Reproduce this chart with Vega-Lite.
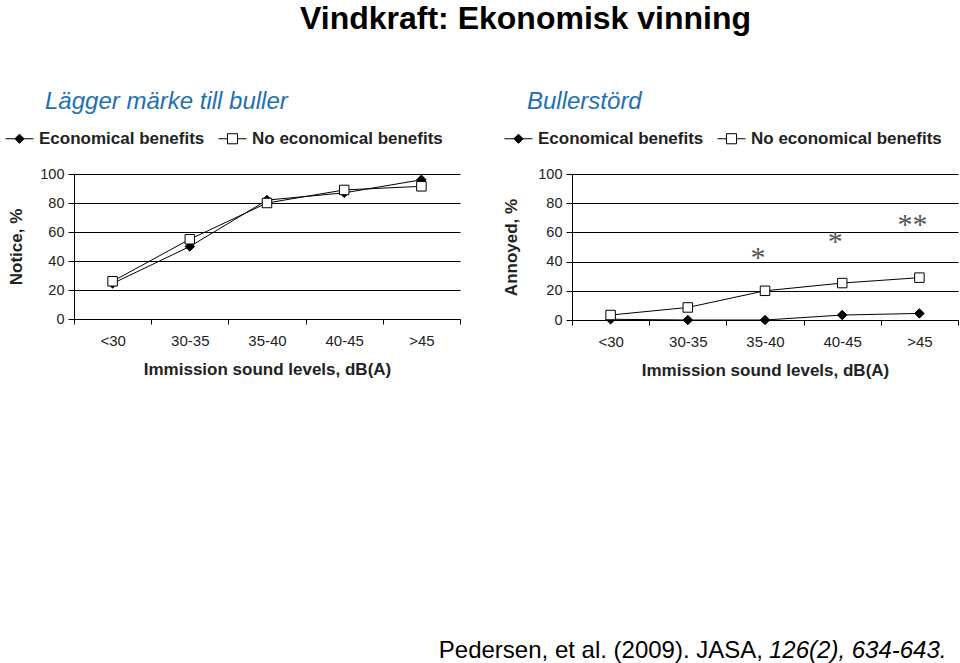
{
  "$schema": "https://vega.github.io/schema/vega-lite/v6.json",
  "background": "white",
  "padding": {"left": 5, "top": 3, "right": 0, "bottom": 0},
  "title": {
    "text": "Vindkraft: Ekonomisk vinning",
    "anchor": "start",
    "dx": 295,
    "font": "Liberation Sans",
    "fontSize": 32,
    "fontWeight": "bold",
    "color": "black",
    "offset": 54
  },
  "data": {
    "values": [
      {"panel": "Notice", "level": "<30", "group": "Economical benefits", "value": 24.5},
      {"panel": "Notice", "level": "30-35", "group": "Economical benefits", "value": 50},
      {"panel": "Notice", "level": "35-40", "group": "Economical benefits", "value": 82},
      {"panel": "Notice", "level": "40-45", "group": "Economical benefits", "value": 87},
      {"panel": "Notice", "level": ">45", "group": "Economical benefits", "value": 96},
      {"panel": "Notice", "level": "<30", "group": "No economical benefits", "value": 26},
      {"panel": "Notice", "level": "30-35", "group": "No economical benefits", "value": 55},
      {"panel": "Notice", "level": "35-40", "group": "No economical benefits", "value": 80},
      {"panel": "Notice", "level": "40-45", "group": "No economical benefits", "value": 89},
      {"panel": "Notice", "level": ">45", "group": "No economical benefits", "value": 91.5},
      {"panel": "Annoyed", "level": "<30", "group": "Economical benefits", "value": 0.5},
      {"panel": "Annoyed", "level": "30-35", "group": "Economical benefits", "value": 0},
      {"panel": "Annoyed", "level": "35-40", "group": "Economical benefits", "value": 0},
      {"panel": "Annoyed", "level": "40-45", "group": "Economical benefits", "value": 3.4},
      {"panel": "Annoyed", "level": ">45", "group": "Economical benefits", "value": 4.5},
      {"panel": "Annoyed", "level": "<30", "group": "No economical benefits", "value": 3.4},
      {"panel": "Annoyed", "level": "30-35", "group": "No economical benefits", "value": 8.6},
      {"panel": "Annoyed", "level": "35-40", "group": "No economical benefits", "value": 20},
      {"panel": "Annoyed", "level": "40-45", "group": "No economical benefits", "value": 25.3},
      {"panel": "Annoyed", "level": ">45", "group": "No economical benefits", "value": 29},
      {"panel": "Annoyed", "level": "35-40", "star": "*", "value": 45.6},
      {"panel": "Annoyed", "level": "40-45", "star": "*", "value": 56.6},
      {"panel": "Annoyed", "level": ">45", "star": "**", "value": 68.5},
      {"panel": "Annoyed", "level": "35-40", "cite": "Pedersen, et al. (2009). JASA,", "part": "main"},
      {"panel": "Annoyed", "level": "35-40", "cite": "126(2), 634-643.", "part": "volume"}
    ]
  },
  "config": {
    "font": "Liberation Sans",
    "view": {"stroke": null},
    "axis": {
      "domainColor": "black",
      "tickColor": "black",
      "labelColor": "#222",
      "titleColor": "#222",
      "labelFont": "Liberation Sans",
      "titleFont": "Liberation Sans",
      "titleFontWeight": "bold",
      "titleFontSize": 17
    },
    "axisX": {"tickSize": 5, "labelAngle": 0, "labelFontSize": 15, "labelPadding": 9, "titlePadding": 13, "grid": false},
    "axisY": {"grid": true, "gridColor": "black", "gridOpacity": 1, "gridWidth": 1, "tickSize": 6, "labelFontSize": 14.5, "labelPadding": 4, "values": [0, 20, 40, 60, 80, 100]},
    "legend": {
      "title": null, "direction": "horizontal", "columns": 2,
      "symbolSize": 784, "symbolStrokeColor": "black", "symbolStrokeWidth": 1,
      "labelFont": "Liberation Sans", "labelFontSize": 17, "labelFontWeight": "bold", "labelColor": "#222",
      "labelOffset": 5, "columnPadding": 11, "labelLimit": 400
    }
  },
  "bounds": "flush",
  "spacing": 112,
  "resolve": {"scale": {"shape": "independent", "fill": "independent", "stroke": "independent"}, "legend": {"shape": "independent", "fill": "independent", "stroke": "independent"}},
  "hconcat": [
    {
      "width": 386,
      "height": 145,
      "title": {
        "text": "Lägger märke till buller",
        "anchor": "start",
        "frame": "group",
        "dx": -29,
        "offset": 10,
        "font": "Liberation Sans",
        "fontSize": 24,
        "fontStyle": "italic",
        "fontWeight": "normal",
        "color": "#1f6fb4"
      },
      "transform": [{"filter": "datum.panel === 'Notice'"}],
      "encoding": {
        "x": {
          "field": "level", "type": "nominal",
          "sort": ["<30", "30-35", "35-40", "40-45", ">45"],
          "scale": {"type": "band", "paddingInner": 0, "paddingOuter": 0, "domain": ["<30", "30-35", "35-40", "40-45", ">45"]},
          "axis": {"title": "Immission sound levels, dB(A)", "tickBand": "extent"}
        }
      },
      "layer": [
        {
          "transform": [{"filter": "isValid(datum.group)"}],
          "mark": {"type": "line", "color": "black", "strokeWidth": 1},
          "encoding": {
            "y": {
              "field": "value", "type": "quantitative",
              "scale": {"domain": [0, 100]},
              "axis": {"title": "Notice, %", "values": [0, 20, 40, 60, 80, 100], "titlePadding": 14}
            },
            "detail": {"field": "group"}
          }
        },
        {
          "transform": [{"filter": "isValid(datum.group)"}],
          "mark": {"type": "point", "filled": true, "opacity": 1, "stroke": "black", "strokeWidth": 1, "size": 90},
          "encoding": {
            "y": {
              "field": "value", "type": "quantitative",
              "axis": {"title": "Notice, %", "values": [0, 20, 40, 60, 80, 100], "titlePadding": 14}
            },
            "shape": {
              "field": "group", "type": "nominal",
              "scale": {"domain": ["Economical benefits", "No economical benefits"], "range": ["diamond", "square"]},
              "legend": null
            },
            "fill": {
              "field": "group", "type": "nominal",
              "scale": {"domain": ["Economical benefits", "No economical benefits"], "range": ["black", "white"]},
              "legend": null
            }
          }
        },
        {
          "transform": [{"filter": "false"}],
          "mark": {"type": "point", "filled": true, "opacity": 1, "strokeWidth": 1},
          "encoding": {
            "shape": {
              "field": "group", "type": "nominal",
              "scale": {"domain": ["Economical benefits", "No economical benefits"], "range": ["M-1,0L1,0M0,-0.33L0.33,0L0,0.33L-0.33,0Z", "M-1,0L-0.36,0M0.36,0L1,0M-0.36,-0.36L0.36,-0.36L0.36,0.36L-0.36,0.36Z"]},
              "legend": {"orient": "none", "legendX": -69, "legendY": -50}
            },
            "fill": {
              "field": "group", "type": "nominal",
              "scale": {"domain": ["Economical benefits", "No economical benefits"], "range": ["black", "white"]},
              "legend": {"orient": "none", "legendX": -69, "legendY": -50}
            },
            "stroke": {
              "field": "group", "type": "nominal",
              "scale": {"domain": ["Economical benefits", "No economical benefits"], "range": ["black", "black"]},
              "legend": {"orient": "none", "legendX": -69, "legendY": -50}
            }
          }
        }
      ],
      "resolve": {"scale": {"shape": "independent", "fill": "independent", "stroke": "independent"}}
    },
    {
      "width": 386,
      "height": 146,
      "title": {
        "text": "Bullerstörd",
        "anchor": "start",
        "frame": "group",
        "dx": -45,
        "offset": 10,
        "font": "Liberation Sans",
        "fontSize": 24,
        "fontStyle": "italic",
        "fontWeight": "normal",
        "color": "#1f6fb4"
      },
      "transform": [{"filter": "datum.panel === 'Annoyed'"}],
      "encoding": {
        "x": {
          "field": "level", "type": "nominal",
          "sort": ["<30", "30-35", "35-40", "40-45", ">45"],
          "scale": {"type": "band", "paddingInner": 0, "paddingOuter": 0, "domain": ["<30", "30-35", "35-40", "40-45", ">45"]},
          "axis": {"title": "Immission sound levels, dB(A)", "tickBand": "extent"}
        }
      },
      "layer": [
        {
          "transform": [{"filter": "isValid(datum.group)"}],
          "mark": {"type": "line", "color": "black", "strokeWidth": 1},
          "encoding": {
            "y": {
              "field": "value", "type": "quantitative",
              "scale": {"domain": [0, 100]},
              "axis": {"title": "Annoyed, %", "values": [0, 20, 40, 60, 80, 100], "titlePadding": 17}
            },
            "detail": {"field": "group"}
          }
        },
        {
          "transform": [{"filter": "isValid(datum.group)"}],
          "mark": {"type": "point", "filled": true, "opacity": 1, "stroke": "black", "strokeWidth": 1, "size": 90},
          "encoding": {
            "y": {
              "field": "value", "type": "quantitative",
              "axis": {"title": "Annoyed, %", "values": [0, 20, 40, 60, 80, 100], "titlePadding": 17}
            },
            "shape": {
              "field": "group", "type": "nominal",
              "scale": {"domain": ["Economical benefits", "No economical benefits"], "range": ["diamond", "square"]},
              "legend": null
            },
            "fill": {
              "field": "group", "type": "nominal",
              "scale": {"domain": ["Economical benefits", "No economical benefits"], "range": ["black", "white"]},
              "legend": null
            }
          }
        },
        {
          "transform": [{"filter": "false"}],
          "mark": {"type": "point", "filled": true, "opacity": 1, "strokeWidth": 1},
          "encoding": {
            "shape": {
              "field": "group", "type": "nominal",
              "scale": {"domain": ["Economical benefits", "No economical benefits"], "range": ["M-1,0L1,0M0,-0.33L0.33,0L0,0.33L-0.33,0Z", "M-1,0L-0.36,0M0.36,0L1,0M-0.36,-0.36L0.36,-0.36L0.36,0.36L-0.36,0.36Z"]},
              "legend": {"orient": "none", "legendX": -68, "legendY": -50}
            },
            "fill": {
              "field": "group", "type": "nominal",
              "scale": {"domain": ["Economical benefits", "No economical benefits"], "range": ["black", "white"]},
              "legend": {"orient": "none", "legendX": -68, "legendY": -50}
            },
            "stroke": {
              "field": "group", "type": "nominal",
              "scale": {"domain": ["Economical benefits", "No economical benefits"], "range": ["black", "black"]},
              "legend": {"orient": "none", "legendX": -68, "legendY": -50}
            }
          }
        },
        {
          "transform": [{"filter": "isValid(datum.star)"}],
          "mark": {"type": "text", "font": "Liberation Serif", "fontSize": 30, "color": "#555", "baseline": "middle", "dx": -7, "dy": 5},
          "encoding": {
            "y": {
              "field": "value", "type": "quantitative",
              "axis": {"title": "Annoyed, %", "values": [0, 20, 40, 60, 80, 100], "titlePadding": 17}
            },
            "text": {"field": "star"}
          }
        },
        {
          "transform": [{"filter": "datum.part === 'main'"}],
          "mark": {"type": "text", "font": "Liberation Sans", "fontSize": 24, "color": "black", "align": "right", "baseline": "middle", "dx": -2},
          "encoding": {
            "text": {"field": "cite"},
            "y": {"datum": -227, "type": "quantitative", "axis": {"title": "Annoyed, %", "values": [0, 20, 40, 60, 80, 100], "titlePadding": 17}}
          }
        },
        {
          "transform": [{"filter": "datum.part === 'volume'"}],
          "mark": {"type": "text", "font": "Liberation Sans", "fontSize": 24, "fontStyle": "italic", "color": "black", "align": "left", "baseline": "middle", "dx": 4},
          "encoding": {
            "text": {"field": "cite"},
            "y": {"datum": -227, "type": "quantitative", "axis": {"title": "Annoyed, %", "values": [0, 20, 40, 60, 80, 100], "titlePadding": 17}}
          }
        }
      ],
      "resolve": {"scale": {"shape": "independent", "fill": "independent", "stroke": "independent"}}
    }
  ]
}
